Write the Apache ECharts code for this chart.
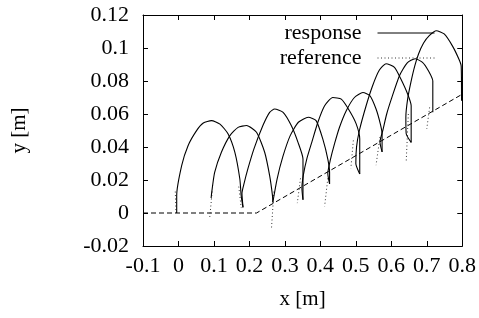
<!DOCTYPE html>
<html><head><meta charset="utf-8">
<script src="https://cdn.jsdelivr.net/npm/echarts@6/dist/echarts.min.js"></script>
<style>html,body{margin:0;padding:0;background:#fff}#c{width:479px;height:318px}</style>
</head><body><div id="c"></div>
<script>
// Response foot trajectories (solid), one array per swing
const arc1 = [[-0.005,0.000],[-0.005,0.0105],[0.009,0.0287],[0.027,0.0408],[0.051,0.0499],[0.070,0.0545],[0.093,0.056],[0.117,0.0539],[0.140,0.0479],[0.159,0.0368],[0.173,0.0206],[0.177,0.0100],[0.182,0.0034]];
const arc2 = [[0.092,0.009],[0.094,0.013],[0.102,0.0246],[0.121,0.0368],[0.145,0.0469],[0.168,0.0519],[0.192,0.053],[0.220,0.0489],[0.243,0.0368],[0.257,0.0226],[0.265,0.0105],[0.266,0.0065]];
const arc3 = [[0.182,0.0034],[0.179,0.0120],[0.185,0.0180],[0.196,0.0270],[0.213,0.039],[0.238,0.053],[0.257,0.061],[0.271,0.063],[0.295,0.061],[0.318,0.053],[0.337,0.0428],[0.351,0.0327],[0.351,0.0080]];
const arc4 = [[0.266,0.0065],[0.278,0.0206],[0.294,0.0340],[0.315,0.0469],[0.338,0.055],[0.366,0.058],[0.388,0.056],[0.407,0.0448],[0.421,0.0327],[0.426,0.0246],[0.426,0.0176]];
const arc5 = [[0.351,0.0080],[0.348,0.0150],[0.352,0.0230],[0.362,0.0330],[0.376,0.0430],[0.393,0.055],[0.412,0.065],[0.435,0.070],[0.459,0.069],[0.482,0.062],[0.501,0.054],[0.511,0.045],[0.511,0.0236]];
const arc6 = [[0.426,0.0176],[0.421,0.0240],[0.428,0.0320],[0.440,0.0420],[0.454,0.0520],[0.473,0.062],[0.496,0.070],[0.520,0.073],[0.540,0.071],[0.557,0.063],[0.569,0.054],[0.574,0.048],[0.574,0.037]];
const arc7 = [[0.511,0.0236],[0.500,0.0300],[0.502,0.0400],[0.510,0.0500],[0.529,0.0650],[0.547,0.0770],[0.566,0.0865],[0.585,0.0905],[0.609,0.0883],[0.627,0.0812],[0.646,0.0721],[0.656,0.065],[0.656,0.0428]];
const arc8 = [[0.574,0.037],[0.568,0.0430],[0.576,0.0500],[0.587,0.0600],[0.600,0.0690],[0.623,0.0832],[0.645,0.0910],[0.667,0.0935],[0.688,0.0913],[0.705,0.0860],[0.717,0.080],[0.717,0.061]];
const arc9 = [[0.656,0.0428],[0.642,0.0480],[0.641,0.0580],[0.646,0.0690],[0.655,0.0790],[0.666,0.0890],[0.677,0.0965],[0.691,0.1030],[0.707,0.1075],[0.727,0.1105],[0.749,0.1085],[0.773,0.101],[0.791,0.093],[0.797,0.089],[0.798,0.068]];
const responseArcs = [arc1, arc2, arc3, arc4, arc5, arc6, arc7, arc8, arc9];

// Reference trajectory (dotted) where it shows beside the response
const ref1 = [[-0.009,0.013],[-0.007,0.0]];
const ref2 = [[0.095,0.013],[0.088,-0.003]];
const ref3 = [[0.170,0.016],[0.177,0.003]];
const ref4 = [[0.269,0.013],[0.262,-0.010]];
const ref5 = [[0.344,0.021],[0.335,0.006]];
const ref6 = [[0.421,0.021],[0.412,0.004]];
const ref7 = [[0.493,0.044],[0.486,0.027]];
const ref8 = [[0.568,0.046],[0.557,0.029]];
const ref9 = [[0.648,0.060],[0.642,0.031]];
const ref10 = [[0.708,0.064],[0.700,0.051]];
const referenceSegs = [ref1, ref2, ref3, ref4, ref5, ref6, ref7, ref8, ref9, ref10];

// Ground profile (dashed)
const ground = [[-0.1,0],[0.22,0],[0.8,0.072]];

const xMin = -0.1, xMax = 0.8, xStep = 0.1;
const yMin = -0.02, yMax = 0.12, yStep = 0.02;

const FONT = 'Liberation Serif';
const fmt = v => String(Math.round(v * 100) / 100);

const series = [];
series.push({type:'line', name:'ground', data:ground, symbol:'none', silent:true, z:1,
  lineStyle:{color:'#000', width:1, type:[5,3]}});
referenceSegs.forEach(s => series.push({type:'line', name:'reference', data:s, symbol:'none', z:2,
  itemStyle:{color:'#333'}, lineStyle:{color:'#333', width:1, type:[1,2.5]}}));
responseArcs.forEach(s => series.push({type:'line', name:'response', data:s, symbol:'none', z:3,
  smooth:0.2, itemStyle:{color:'#000'}, lineStyle:{color:'#000', width:1.1}}));

const axisCommon = {
  type:'value', splitLine:{show:false},
  axisLine:{show:true, onZero:false, lineStyle:{color:'#000', width:1}},
  axisTick:{show:true, inside:true, length:5, lineStyle:{color:'#000'}}
};

const chart = echarts.init(document.getElementById('c'), null, {renderer:'canvas'});
chart.setOption({
  animation:false,
  backgroundColor:'#fff',
  grid:{left:143, right:16, top:15, bottom:72, containLabel:false},
  legend:{
    data:['response','reference'], orient:'vertical', align:'right',
    right:39, top:17, itemWidth:57, itemHeight:14, itemGap:3,
    itemStyle:{opacity:0}, lineStyle:{width:1},
    textStyle:{fontFamily:FONT, fontSize:22, color:'#000', padding:[0,11,0,0]},
    selectedMode:false
  },
  xAxis:[
    Object.assign({}, axisCommon, {min:xMin, max:xMax, interval:xStep, position:'bottom',
      name:'x [m]', nameLocation:'middle', nameGap:43,
      nameTextStyle:{fontFamily:FONT, fontSize:21, color:'#000'},
      axisLabel:{formatter:fmt, fontFamily:FONT, fontSize:22, color:'#000', margin:9}}),
    Object.assign({}, axisCommon, {min:xMin, max:xMax, interval:xStep, position:'top',
      axisLabel:{show:false}})
  ],
  yAxis:[
    Object.assign({}, axisCommon, {min:yMin, max:yMax, interval:yStep, position:'left',
      name:'y [m]', nameLocation:'middle', nameGap:113, nameRotate:90,
      nameTextStyle:{fontFamily:FONT, fontSize:21, color:'#000'},
      axisLabel:{formatter:fmt, fontFamily:FONT, fontSize:22, color:'#000', margin:14}}),
    Object.assign({}, axisCommon, {min:yMin, max:yMax, interval:yStep, position:'right',
      axisLabel:{show:false}})
  ],
  series:series
});
</script></body></html>
